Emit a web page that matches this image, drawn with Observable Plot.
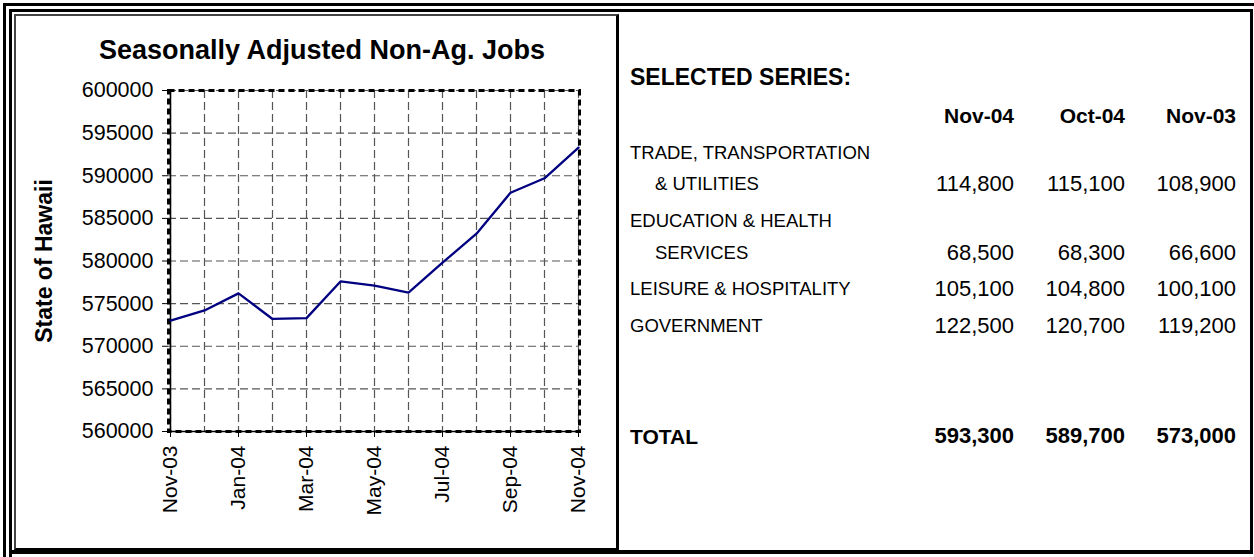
<!DOCTYPE html>
<html>
<head>
<meta charset="utf-8">
<script src="https://cdn.jsdelivr.net/npm/d3@7"></script>
<script src="https://cdn.jsdelivr.net/npm/@observablehq/plot@0.6"></script>
<style>
  html, body { margin: 0; padding: 0; background: #fff; }
  body { width: 1254px; height: 557px; position: relative; overflow: hidden; font-family: "Liberation Sans", Arial, sans-serif; color: #000; }
  .abs { position: absolute; box-sizing: border-box; }
  .t { position: absolute; line-height: 1; white-space: nowrap; transform: translateY(-50%); }
  .r { text-align: right; }
</style>
</head>
<body>
<div id="root"></div>
<script>
// ---- Chart data ----
const months = ["Nov-03","Dec-03","Jan-04","Feb-04","Mar-04","Apr-04","May-04","Jun-04","Jul-04","Aug-04","Sep-04","Oct-04","Nov-04"];
const jobs = [573000, 574200, 576200, 573200, 573300, 577600, 577100, 576300, 579800, 583200, 588000, 589700, 593300];
const labeledMonths = ["Nov-03","Jan-04","Mar-04","May-04","Jul-04","Sep-04","Nov-04"];
const yTicks = [560000, 565000, 570000, 575000, 580000, 585000, 590000, 595000, 600000];
const chartTitle = "Seasonally Adjusted Non-Ag. Jobs";
const yLabel = "State of Hawaii";

// ---- Table data ----
const tableTitle = "SELECTED SERIES:";
const columnHeaders = ["Nov-04", "Oct-04", "Nov-03"];
const seriesLine1 = ["TRADE, TRANSPORTATION", "EDUCATION & HEALTH", "LEISURE & HOSPITALITY", "GOVERNMENT"];
const seriesLine2 = ["& UTILITIES", "SERVICES", null, null];
const valuesNov04 = ["114,800", "68,500", "105,100", "122,500"];
const valuesOct04 = ["115,100", "68,300", "104,800", "120,700"];
const valuesNov03 = ["108,900", "66,600", "100,100", "119,200"];
const totalLabel = "TOTAL";
const totals = ["593,300", "589,700", "573,000"];

// ---- Frame decorations ----
const root = document.getElementById("root");
function box(style) {
  const d = document.createElement("div");
  d.className = "abs";
  Object.assign(d.style, style);
  root.appendChild(d);
  return d;
}
box({left: "3px", top: "3px", width: "1251px", height: "554px", borderTop: "3px solid #000", borderLeft: "3px solid #000"});
box({left: "9px", top: "9px", width: "1244px", height: "545px", borderTop: "3px solid #000", borderLeft: "3px solid #000", borderRight: "3px solid #000", borderBottom: "4px solid #000"});
box({left: "9px", top: "550px", width: "3px", height: "7px", background: "#000"});
box({left: "14px", top: "14px", width: "605px", height: "536px", borderTop: "2px solid #444", borderLeft: "2px solid #444", borderRight: "3px solid #000", borderBottom: "2px solid #000"});

// ---- Chart ----
const W = 600, H = 533;
const chart = Plot.plot({
  width: W,
  height: H,
  marginLeft: 153,
  marginRight: 36,
  marginTop: 75,
  marginBottom: 117,
  style: {fontFamily: "Liberation Sans, Arial, sans-serif", fontSize: "21px", color: "#000", background: "transparent", overflow: "visible"},
  x: {type: "point", domain: months, padding: 0},
  y: {domain: [560000, 600000]},
  marks: [
    Plot.gridX(months, {stroke: "#555", strokeOpacity: 1, strokeWidth: 1.2, strokeDasharray: "8,4"}),
    Plot.gridY(yTicks, {stroke: "#555", strokeOpacity: 1, strokeWidth: 1.2, strokeDasharray: "8,4"}),
    Plot.ruleX([months[0]], {stroke: "#000", strokeWidth: 1.5}),
    Plot.ruleY([560000], {stroke: "#000", strokeWidth: 1.5}),
    Plot.frame({stroke: "#000", strokeWidth: 3, strokeDasharray: "6,4"}),
    Plot.axisY(yTicks, {tickSize: 6, tickPadding: 9, tickFormat: d3.format("d"), fontSize: 21.5, label: null, stroke: "#000"}),
    Plot.axisX(labeledMonths, {tickSize: 6, tickPadding: 8, tickRotate: -90, fontSize: 21, label: null, stroke: "#000"}),
    Plot.line(jobs, {x: (d, i) => months[i], y: d => d, stroke: "#000080", strokeWidth: 2.3}),
    Plot.text([chartTitle], {frameAnchor: "top", textAnchor: "middle", lineAnchor: "middle", dx: -52, dy: -40, fontSize: 27, fontWeight: "bold"}),
    Plot.text([yLabel], {frameAnchor: "left", textAnchor: "middle", lineAnchor: "middle", rotate: -90, dx: -124, fontSize: 23, fontWeight: "bold"})
  ]
});
chart.style.position = "absolute";
chart.style.left = "15px";
chart.style.top = "15px";
root.appendChild(chart);

// ---- Table ----
function text(str, x, y, opts = {}) {
  const d = document.createElement("div");
  d.className = "t" + (opts.right ? " r" : "");
  d.textContent = str;
  if (opts.right) d.style.right = (1254 - x) + "px"; else d.style.left = x + "px";
  d.style.top = y + "px";
  d.style.fontSize = (opts.size || 18.5) + "px";
  if (opts.bold) d.style.fontWeight = "bold";
  root.appendChild(d);
}
const colRight = [1014, 1125, 1236];
text(tableTitle, 630, 77, {size: 23, bold: true});
columnHeaders.forEach((h, j) => text(h, colRight[j], 115, {size: 21, bold: true, right: true}));
const rowY1 = [153, 221, 289, 326];
const rowY2 = [184, 253, null, null];
seriesLine1.forEach((lab, i) => {
  text(lab, 630, rowY1[i], {size: 18.5});
  const vy = seriesLine2[i] ? rowY2[i] : rowY1[i];
  if (seriesLine2[i]) text(seriesLine2[i], 655, rowY2[i], {size: 18.5});
  [valuesNov04[i], valuesOct04[i], valuesNov03[i]].forEach((v, j) => text(v, colRight[j], vy, {size: 22, right: true}));
});
text(totalLabel, 630, 436, {size: 21, bold: true});
totals.forEach((v, j) => text(v, colRight[j], 436, {size: 22, bold: true, right: true}));
</script>
</body>
</html>
